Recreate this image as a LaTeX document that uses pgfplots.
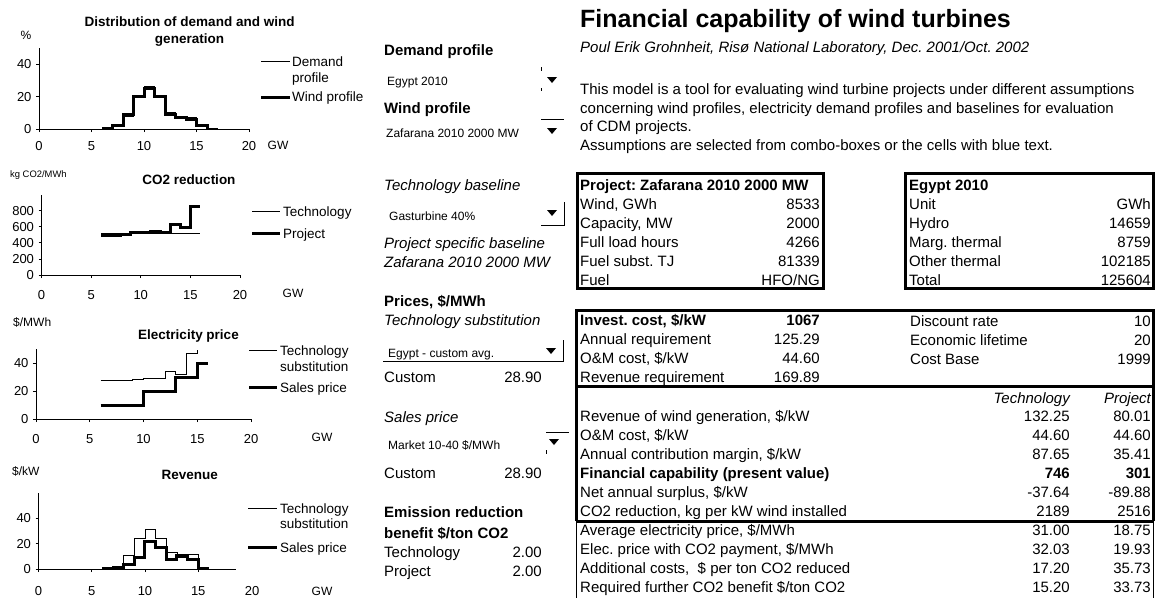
\documentclass[border=0pt]{standalone}
\usepackage{fontspec}
\setmainfont{Liberation Sans}
\usepackage{pgfplots}
\pgfplotsset{compat=1.18}
\frenchspacing
\newcommand\fA{\fontsize{15}{18}\selectfont}
\newcommand\fS{\fontsize{12}{14}\selectfont}
\newcommand\fC{\fontsize{13.5}{16}\selectfont}
\newcommand\fT{\fontsize{13}{15}\selectfont}
\pgfplotsset{xlchart/.style={
  scale only axis, anchor=south west,
  axis x line=bottom, axis y line=left,
  axis line style={-, line width=0.8pt, black},
  tick align=outside, major tick length=3pt,
  tick style={black, line width=0.8pt},
  xmin=0, ymin=0,
  xtick={0,5,10,15,20},
  /pgf/number format/assume math mode=true,
  ticklabel style={font=\fT},
  yticklabel style={xshift=-1pt},
  clip=false,
  thinline/.style={black, line width=0.8pt, const plot},
  thickline/.style={black, line width=3pt, const plot},
}}
\begin{document}
\begin{tikzpicture}
\fill[white] (0pt,0pt) rectangle (1156pt,-598pt);
\path[use as bounding box] (0pt,0pt) rectangle (1156pt,-598pt);

% ---------- Chart 1
\begin{axis}[xlchart, at={(39pt,-129pt)}, width=210pt, height=81pt,
  xmax=20, ymax=50, ytick={0,20,40}, xticklabel style={yshift=-6pt}]
\addplot[thinline] coordinates {(6,0.3)(7,1.5)(8,8)(9,20)(10,26)(11,20)(12,10)(13,8)(14,7)(15,2.5)(16,0.5)(17,0)};
\addplot[thickline] coordinates {(6,0.5)(7,2)(8,9)(9,20)(10,25)(11,20)(12,9)(13,7)(14,6)(15,2.2)(16,0)};
\end{axis}

% ---------- Chart 2
\begin{axis}[xlchart, at={(41.5pt,-275pt)}, width=198.5pt, height=80.4pt,
  xmax=20, ymax=1000, ytick={0,200,400,600,800}, xticklabel style={yshift=-9pt}]
\addplot[thinline] coordinates {(6,515)(16,515)};
\addplot[thickline] coordinates {(6,490)(8,505)(9,530)(11,545)(12,525)(13,625)(14,590)(15,855)(16,855)};
\end{axis}

% ---------- Chart 3
\begin{axis}[xlchart, at={(36pt,-419pt)}, width=215pt, height=70pt,
  xmax=20, ymax=50, ytick={0,20,40}, xticklabel style={yshift=-9pt}]
\addplot[thinline] coordinates {(6,27.5)(9,28.5)(10,29.3)(11,28.7)(12,34)(13,32)(14,47)(15,49)};
\addplot[thickline] coordinates {(6,10)(10,20)(13,30)(15,40)(16,40)};
\end{axis}

% ---------- Chart 4
\begin{axis}[xlchart, at={(38.5pt,-569pt)}, width=197pt, height=76pt,
  xmax=18.5, ymax=60, ytick={0,20,40}, xticklabel style={yshift=-11pt}]
\addplot[thinline] coordinates {(6,0.5)(7,2)(8,10.5)(9,24)(10,31.5)(11,24)(12,13)(13,9.5)(14,11.5)(15,0.5)(16,0)};
\addplot[thickline] coordinates {(6,0.3)(7,1)(8,3.6)(9,8.8)(10,21.5)(11,16.6)(12,7.8)(13,10.3)(14,7.5)(15,0.5)(16,0.5)};
\end{axis}

\begin{scope}[x=1pt,y=-1pt, every node/.style={inner sep=0pt},
  t/.style={anchor=base west}, r/.style={anchor=base east}, c/.style={anchor=base}]
% chart texts
\node[c,font=\fC\bfseries] at (189.5,26.5) {Distribution of demand and wind};
\node[c,font=\fC\bfseries] at (189.5,43) {generation};
\node[c,font=\fS] at (26,39) {\%};
\node[c,font=\fS] at (278,149) {GW};
\draw[line width=0.8pt] (261,61)--(290,61);
\node[t,font=\fC] at (292,66) {Demand};
\node[t,font=\fC] at (292,82.5) {profile};
\draw[line width=3pt] (261,97)--(290,97);
\node[t,font=\fC] at (292,101.5) {Wind profile};

\node[c,font=\fC\bfseries] at (189,184) {CO2 reduction};
\node[t,font=\fontsize{9.4}{11}\selectfont] at (10,177.5) {kg CO2/MWh};
\node[c,font=\fS] at (293,297.5) {GW};
\draw[line width=0.8pt] (252,211.7)--(280,211.7);
\node[t,font=\fC] at (283,216.5) {Technology};
\draw[line width=3pt] (252,233.3)--(280,233.3);
\node[t,font=\fC] at (283,238) {Project};

\node[c,font=\fC\bfseries] at (188.5,339) {Electricity price};
\node[t,font=\fS] at (13,326) {\$/MWh};
\node[c,font=\fS] at (322,441.5) {GW};
\draw[line width=0.8pt] (249,350.7)--(277,350.7);
\node[t,font=\fC] at (280,355.5) {Technology};
\node[t,font=\fC] at (280,371) {substitution};
\draw[line width=3pt] (249,387.3)--(277,387.3);
\node[t,font=\fC] at (280,392) {Sales price};

\node[c,font=\fC\bfseries] at (189.7,479) {Revenue};
\node[t,font=\fS] at (12,475) {\$/kW};
\node[c,font=\fT] at (252,595.5) {20};
\node[c,font=\fS] at (322,595) {GW};
\draw[line width=0.8pt] (248,508.3)--(277,508.3);
\node[t,font=\fC] at (280,513) {Technology};
\node[t,font=\fC] at (280,528) {substitution};
\draw[line width=3pt] (248,547.3)--(277,547.3);
\node[t,font=\fC] at (280,552) {Sales price};

% middle column
\node[t,font=\fA\bfseries] at (384,55) {Demand profile};
\node[t,font=\fS] at (387,85) {Egypt 2010};
\draw[line width=0.6pt] (541,67)--(541,71) (541,88)--(541,91);
\fill (547,77)--(557,77)--(552,83)--cycle;
\node[t,font=\fA\bfseries] at (384,113) {Wind profile};
\node[t,font=\fS] at (386,137) {Zafarana 2010 2000 MW};
\draw[line width=0.8pt] (541,119)--(564,119);
\fill (547,128)--(557,128)--(552,134)--cycle;
\node[t,font=\fA\itshape] at (384,190) {Technology baseline};
\node[t,font=\fS] at (389,220) {Gasturbine 40\%};
\draw[line width=0.8pt] (564,202)--(564,225)--(541,225);
\fill (547,210)--(557,210)--(552,216)--cycle;
\node[t,font=\fA\itshape] at (384,248) {Project specific baseline};
\node[t,font=\fA\itshape] at (384,267) {Zafarana 2010 2000 MW};
\node[t,font=\fA\bfseries] at (384,306) {Prices, \$/MWh};
\node[t,font=\fA\itshape] at (384,325) {Technology substitution};
\node[t,font=\fS] at (388,357) {Egypt - custom avg.};
\draw[line width=0.8pt] (383,361)--(563,361)--(563,340);
\fill (546,348)--(556,348)--(551,354)--cycle;
\node[t,font=\fA] at (384,382) {Custom};
\node[r,font=\fA] at (542,382) {28.90};
\node[t,font=\fA\itshape] at (384,422) {Sales price};
\node[t,font=\fS] at (388,449) {Market 10-40 \$/MWh};
\draw[line width=0.8pt] (546,432)--(569,432);
\draw[line width=0.6pt] (546,450)--(546,454);
\fill (549,439)--(559,439)--(554,445)--cycle;
\node[t,font=\fA] at (384,478) {Custom};
\node[r,font=\fA] at (542,478) {28.90};
\node[t,font=\fA\bfseries] at (384,517) {Emission reduction};
\node[t,font=\fA\bfseries] at (384,538) {benefit \$/ton CO2};
\node[t,font=\fA] at (384,557) {Technology};
\node[r,font=\fA] at (542,557) {2.00};
\node[t,font=\fA] at (384,576) {Project};
\node[r,font=\fA] at (542,576) {2.00};

% right: header
\node[t,font=\fontsize{25}{30}\selectfont\bfseries] at (580,27) {Financial capability of wind turbines};
\node[t,font=\fA\itshape] at (580,52) {Poul Erik Grohnheit, Risø National Laboratory, Dec. 2001/Oct. 2002};
\node[t,font=\fA] at (580,94.5) {This model is a tool for evaluating wind turbine projects under different assumptions};
\node[t,font=\fA] at (580,113) {concerning wind profiles, electricity demand profiles and baselines for evaluation};
\node[t,font=\fA] at (580,131.5) {of CDM projects.};
\node[t,font=\fA] at (580,150) {Assumptions are selected from combo-boxes or the cells with blue text.};

% table 1
\draw[line width=3pt] (577,173) rectangle (823,288);
\node[t,font=\fA\bfseries] at (580,190) {Project: Zafarana 2010 2000 MW};
\foreach \l/\v/\y in {{Wind, GWh}/8533/209, {Capacity, MW}/2000/228, {Full load hours}/4266/247, {Fuel subst. TJ}/81339/266, {Fuel}/HFO\slash NG/285} {
  \node[t,font=\fA] at (580,\y) {\l};
  \node[r,font=\fA] at (820,\y) {\v};
}
% table 2
\draw[line width=3pt] (905,173) rectangle (1153,288);
\node[t,font=\fA\bfseries] at (909,190) {Egypt 2010};
\foreach \l/\v/\y in {Unit/GWh/209, Hydro/14659/228, {Marg. thermal}/8759/247, {Other thermal}/102185/266, Total/125604/285} {
  \node[t,font=\fA] at (909,\y) {\l};
  \node[r,font=\fA] at (1151,\y) {\v};
}

% big table
\draw[line width=3pt] (576.5,521) -- (576.5,310.5) -- (1153,310.5) -- (1153,521);
\draw[line width=3pt] (576.5,386) -- (1153,386);
\draw[line width=3pt] (576.5,521) -- (1153,521);
\draw[line width=1pt] (576.5,521) -- (576.5,598) (1153,521) -- (1153,598);
\node[t,font=\fA\bfseries] at (580,325) {Invest. cost, \$/kW};
\node[r,font=\fA\bfseries] at (820,325) {1067};
\foreach \l/\v/\y in {{Annual requirement}/125.29/344, {O\&M cost, \$/kW}/44.60/363, {Revenue requirement}/169.89/382} {
  \node[t,font=\fA] at (580,\y) {\l};
  \node[r,font=\fA] at (820,\y) {\v};
}
\foreach \l/\v/\y in {{Discount rate}/10/326, {Economic lifetime}/20/345, {Cost Base}/1999/364} {
  \node[t,font=\fA] at (910,\y) {\l};
  \node[r,font=\fA] at (1151,\y) {\v};
}
\node[r,font=\fA\itshape] at (1070,403) {Technology};
\node[r,font=\fA\itshape] at (1151,403) {Project};
\foreach \l/\a/\b/\y in {{Revenue of wind generation, \$/kW}/132.25/80.01/421,
  {O\&M cost, \$/kW}/44.60/44.60/440,
  {Annual contribution margin, \$/kW}/87.65/35.41/459,
  {Net annual surplus, \$/kW}/-37.64/-89.88/497,
  {CO2 reduction, kg per kW wind installed}/2189/2516/516,
  {Average electricity price, \$/MWh}/31.00/18.75/535,
  {Elec. price with CO2 payment, \$/MWh}/32.03/19.93/554,
  {Additional costs,\ \ \$ per ton CO2 reduced}/17.20/35.73/573,
  {Required further CO2 benefit \$/ton CO2}/15.20/33.73/592} {
  \node[t,font=\fA] at (580,\y) {\l};
  \node[r,font=\fA] at (1070,\y) {\a};
  \node[r,font=\fA] at (1151,\y) {\b};
}
\node[t,font=\fA\bfseries] at (580,478) {Financial capability (present value)};
\node[r,font=\fA\bfseries] at (1070,478) {746};
\node[r,font=\fA\bfseries] at (1151,478) {301};
\end{scope}
\end{tikzpicture}
\end{document}
